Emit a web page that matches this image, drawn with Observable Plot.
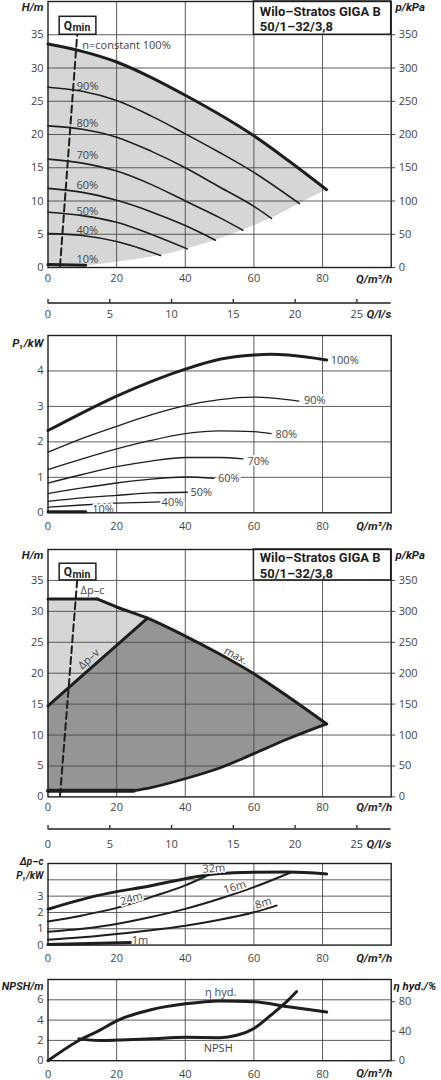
<!DOCTYPE html>
<html><head><meta charset="utf-8">
<script src="https://cdn.jsdelivr.net/npm/d3@7"></script>
<script src="https://cdn.jsdelivr.net/npm/@observablehq/plot@0.6"></script>
<style>
html,body{margin:0;padding:0;background:#fff;}
#c{position:relative;width:441px;height:1080px;overflow:hidden;background:#fff;}
#c svg{position:absolute;left:0;overflow:visible;}
</style></head><body><div id="c"></div>
<script>
// ---------------- shared axes ----------------
const Q_DOMAIN = [0, 100];
const Q_LS_DOMAIN = [0, 100 / 3.6];
const qTicks = [0, 20, 40, 60, 80];
const qGridLines = [20, 40, 60, 80];
const lsTicks = [0, 5, 10, 15, 20, 25];

// ---------------- panel 1 : H(Q), n = const ----------------
const H_DOMAIN = [0, 40];
const KPA_DOMAIN = [0, 400];
const hTicks = [0, 5, 10, 15, 20, 25, 30, 35];
const hGridLines = [5, 10, 15, 20, 25, 30, 35];
const kpaTicks = [0, 50, 100, 150, 200, 250, 300, 350];
const h100 = [[0,33.6],[10,32.5],[20,30.9],[30,28.6],[40,25.9],[50,23.0],[60,19.8],[70,16.1],[81.2,11.7]];
const h90  = [[0,27.1],[10,26.5],[20,25.1],[30,22.8],[40,20.1],[50,17.3],[60,14.3],[73.3,9.6]];
const h80  = [[0,21.3],[10,20.8],[20,19.6],[30,17.5],[40,15.0],[50,12.1],[60,9.2],[65.1,7.4]];
const h70  = [[0,16.3],[10,15.7],[20,14.5],[30,12.5],[40,10.0],[50,7.5],[56.8,5.6]];
const h60  = [[0,11.9],[10,11.3],[20,10.1],[30,8.4],[40,6.3],[48.8,4.1]];
const h50  = [[0,8.3],[10,7.8],[20,6.8],[30,5.0],[40.6,2.8]];
const h40  = [[0,5.1],[10,4.8],[20,3.9],[32.8,1.8]];
const h10  = [[0,0.45],[11,0.35]];
const hLowerLimit = [[0,0],[10,0.2],[20,0.8],[32.8,1.8],[40.6,2.8],[48.8,4.1],[56.8,5.6],[65.1,7.4],[73.3,9.6],[81.2,11.7]];
const qminLine = [[3.5,0.2],[8.5,35]];
const qminBox = {q1: 3.4, q2: 14.1, h1: 35, h2: 37.7};
const qminLabel = {q: 7.0, h: 36.3};
const titleBox = {q1: 60, q2: 100, h1: 35, h2: 40};
const titleText = {q: 61.7, h: 37.45, t: "Wilo–Stratos GIGA B\n50/1–32/3,8"};
const speedLabels = [
  {q: 10.0, v: 33.45, t: "n=constant 100%"},
  {q: 8.4, v: 27.2, t: "90%"}, {q: 8.3, v: 21.7, t: "80%"}, {q: 8.3, v: 16.8, t: "70%"},
  {q: 8.3, v: 12.3, t: "60%"}, {q: 8.3, v: 8.5, t: "50%"}, {q: 8.3, v: 5.5, t: "40%"},
  {q: 8.3, v: 1.26, t: "10%"}
];

// ---------------- panel 2 : P1(Q), n = const ----------------
const P1_DOMAIN = [0, 5];
const p1Ticks = [0, 1, 2, 3, 4];
const p1GridLines = [1, 2, 3, 4];
const p100 = [[0,2.32],[10,2.82],[20,3.29],[30,3.70],[40,4.05],[50,4.33],[60,4.45],[65,4.47],[70,4.45],[81.2,4.31]];
const p90  = [[0,1.71],[10,2.10],[20,2.44],[30,2.76],[40,3.02],[50,3.19],[60,3.26],[73.1,3.15]];
const p80  = [[0,1.22],[10,1.52],[20,1.80],[30,2.04],[40,2.23],[50,2.31],[60,2.29],[65,2.23]];
const p70  = [[0,0.84],[10,1.08],[20,1.30],[30,1.46],[40,1.56],[50,1.56],[56.8,1.52]];
const p60  = [[0,0.54],[10,0.70],[20,0.84],[30,0.95],[40,1.01],[48.3,0.97]];
const p50  = [[0,0.32],[10,0.42],[20,0.49],[30,0.56],[40.6,0.58]];
const p40  = [[0,0.16],[10,0.22],[20,0.27],[32.8,0.31]];
const p10  = [[0,0.03],[11,0.03]];
const p1Labels = [
  {q: 82.4, v: 4.30, t: "100%"}, {q: 74.6, v: 3.17, t: "90%"}, {q: 66.3, v: 2.22, t: "80%"},
  {q: 58.1, v: 1.46, t: "70%"}, {q: 49.5, v: 0.97, t: "60%"}, {q: 41.5, v: 0.57, t: "50%"},
  {q: 33.1, v: 0.30, t: "40%"}, {q: 12.9, v: 0.09, t: "10%"}
];

// ---------------- panel 3 : control modes ----------------
const dpcTop   = [[0,32],[14.3,32]];
const maxCurve = [[14.3,32],[20,30.7],[29,28.9],[40,26.0],[50,23.1],[60,19.9],[70,16.2],[81.2,11.8]];
const dpvLine  = [[0,14.7],[29,28.9]];
const minCurve = [[0,1],[25,1],[30,1.5],[40,2.95],[50,4.67],[60,7.0],[70,9.4],[81.2,11.8]];
const dpcLabel = {q: 9.5, v: 33.3, t: "Δp–c"};
const slopedLabels = [
  {q: 11.9, v: 22.3, t: "Δp–v", r: -42},
  {q: 54.7, v: 22.8, t: "max.", r: 29}
];

// ---------------- panel 4 : P1 at Δp-c ----------------
const dpcP1Ticks = [0, 1, 2, 3];
const dpcMaxP1 = [[0,2.2],[14.3,3.03],[30,3.64],[45.5,4.27],[50,4.38],[60,4.46],[70,4.48],[81.2,4.36]];
const dpc24 = [[0,1.44],[10,1.82],[20,2.28],[30,2.94],[40,3.66],[46,4.22]];
const dpc16 = [[0,0.82],[10,1.0],[20,1.29],[30,1.72],[40,2.22],[50,2.84],[60,3.55],[70.7,4.45]];
const dpc8  = [[0,0.33],[10,0.48],[20,0.68],[30,0.91],[40,1.19],[50,1.55],[60,2.01],[66.6,2.42]];
const dpc1  = [[0,0.03],[24,0.16]];
const dpcLabels = [
  {q: 48.3, v: 4.69, t: "32m", r: -4}, {q: 24.3, v: 2.84, t: "24m", r: -17},
  {q: 54.4, v: 3.55, t: "16m", r: -17}, {q: 62.7, v: 2.57, t: "8m", r: -18},
  {q: 26.8, v: 0.31, t: "1m", r: 0}
];

// ---------------- panel 5 : NPSH and efficiency ----------------
const NPSH_DOMAIN = [0, 8];
const ETA_DOMAIN = [0, 110];
const npshTicks = [0, 2, 4, 6];
const npshGridLines = [2, 4, 6];
const etaTicks = [0, 40, 80];
const npsh = [[9,2.15],[15,2.0],[20,2.03],[30,2.16],[40,2.3],[50,2.27],[55,2.5],[60,3.18],[65,4.5],[70,5.97],[72.4,6.8]];
const etaHyd = [[0,0],[10,30],[15,41],[20,54],[30,69],[40,77],[50,81],[60,80],[70,73],[81.2,66]];
const npshLabels = [{q: 50.3, v: 6.7, t: "η hyd."}, {q: 49.6, v: 1.2, t: "NPSH"}];

// ======================================================
const FONT = "'Open Sans','Noto Sans',sans-serif";
const TFONT = "Roboto,'Open Sans',sans-serif";
const INK = "#1e1e1e", GRID = "#4a4a4a", TXT = "#444", LIGHT = "#d6d6d6", DARK = "#959595";
const W = 441, ML = 47.5, MR = 50.3;
const root = document.getElementById("c");
const XY = {x: d => d[0], y: d => d[1]};
const CURVE = "monotone-x";
const INT = d3.format("d");

function mount(svg, top) { svg.style.top = top + "px"; root.appendChild(svg); return svg; }
const STYLE = {fontFamily: FONT, fontSize: "11px", color: TXT, background: "transparent", overflow: "visible"};

function panel(frameTop, frameBottom, yDomain, marks) {
  const mt = 20, mb = 24;
  return mount(Plot.plot({
    width: W, height: frameBottom - frameTop + mt + mb,
    marginLeft: ML, marginRight: MR, marginTop: mt, marginBottom: mb,
    x: {domain: Q_DOMAIN}, y: {domain: yDomain},
    style: STYLE, marks
  }), frameTop - mt);
}

const gridX = () => Plot.ruleX(qGridLines, {stroke: GRID, strokeWidth: 0.9});
const gridY = (lines) => Plot.ruleY(lines, {stroke: GRID, strokeWidth: 0.9});
const frame = () => Plot.frame({stroke: INK, strokeWidth: 1.4});
const leftAxis = (ticks) => Plot.axisY({ticks, tickFormat: INT, tickSize: 0, tickPadding: 4.5, label: null, fontSize: 11});
const bottomAxis = (pad) => Plot.axisX({ticks: qTicks, tickFormat: INT, tickSize: 0, tickPadding: pad, label: null, fontSize: 11});
const title = (t, anchor, dx, dy, align, size = 11.5) => Plot.text([t], {frameAnchor: anchor, lineAnchor: "middle", dx, dy, textAnchor: align, fontFamily: TFONT, fontWeight: "bold", fontStyle: "italic", fill: INK, fontSize: size});
const qLabel = (dy) => title("Q/m³/h", "bottom-right", 1, dy, "end");
const thin = (data, w = 1.6) => Plot.line(data, {...XY, stroke: INK, strokeWidth: w, curve: CURVE});

function headerMarks() {
  return [
    Plot.line(qminLine, {...XY, stroke: INK, strokeWidth: 2, strokeDasharray: "7,4"}),
    Plot.rect([titleBox], {x1: "q1", x2: "q2", y1: "h1", y2: "h2", fill: "white", stroke: INK, strokeWidth: 1.5}),
    Plot.text([titleText], {x: "q", y: "h", text: "t", textAnchor: "start", lineAnchor: "middle", lineHeight: 1.22, fontFamily: TFONT, fontWeight: "bold", fontSize: 13, fill: INK}),
    Plot.rect([qminBox], {x1: "q1", x2: "q2", y1: "h1", y2: "h2", fill: "white", stroke: INK, strokeWidth: 1.5}),
    Plot.text([qminLabel], {x: "q", y: "h", text: () => "Q", textAnchor: "end", fontFamily: TFONT, fontWeight: "bold", fontSize: 12, fill: INK}),
    Plot.text([qminLabel], {x: "q", y: "h", text: () => "min", textAnchor: "start", dx: 0.5, dy: 2, fontFamily: TFONT, fontWeight: "bold", fontSize: 10.5, fill: INK})
  ];
}

function rightAxis(frameTop, frameBottom, domain, ticks, label, dx, dy, extra = []) {
  const mt = 20, mb = 24;
  return mount(Plot.plot({
    width: W, height: frameBottom - frameTop + mt + mb,
    marginLeft: ML, marginRight: MR, marginTop: mt, marginBottom: mb,
    x: {domain: Q_DOMAIN, axis: null}, y: {domain},
    style: STYLE,
    marks: [
      ...extra,
      Plot.axisY({ticks, tickFormat: INT, anchor: "right", tickSize: 3.5, tickPadding: 4, label: null, fontSize: 11}),
      title(label, "top-right", dx, dy, "start")
    ]
  }), frameTop - mt);
}

function lsAxis(lineY, pad) {
  const mb = 26, ih = 3.5;
  return mount(Plot.plot({
    width: W, height: ih + mb, marginLeft: ML, marginRight: MR, marginTop: 0, marginBottom: mb,
    x: {domain: Q_LS_DOMAIN}, y: {domain: [0, 1], axis: null},
    style: STYLE,
    marks: [
      Plot.ruleX(lsTicks, {stroke: INK, strokeWidth: 1.3}),
      Plot.ruleY([0], {stroke: INK, strokeWidth: 1.4}),
      Plot.axisX({ticks: lsTicks, tickFormat: INT, tickSize: 0, tickPadding: pad, label: null, fontSize: 11}),
      title("Q/l/s", "bottom-right", 0, pad + 4, "end")
    ]
  }), lineY - ih);
}

// ---------- panel 1 ----------
const F1 = [0.7, 266.7];
panel(F1[0], F1[1], H_DOMAIN, [
  Plot.areaY(h100, {...XY, fill: LIGHT, curve: CURVE}),
  Plot.areaY(hLowerLimit, {...XY, fill: "white", curve: CURVE}),
  gridX(), gridY(hGridLines),
  thin(h90), thin(h80), thin(h70), thin(h60), thin(h50), thin(h40),
  Plot.line(h100, {...XY, stroke: INK, strokeWidth: 3, curve: CURVE}),
  Plot.line(h10, {...XY, stroke: INK, strokeWidth: 3}),
  ...headerMarks(),
  Plot.text(speedLabels, {x: "q", y: "v", text: "t", textAnchor: "start", fill: TXT, fontSize: 11}),
  frame(), leftAxis(hTicks), bottomAxis(7),
  title("H/m", "top-left", -4.5, 6, "end"), qLabel(12)
]);
rightAxis(F1[0], F1[1], KPA_DOMAIN, kpaTicks, "p/kPa", 4.3, 6);
lsAxis(302.7, 7);

// ---------- panel 2 ----------
const F2 = [335, 512.3];
panel(F2[0], F2[1], P1_DOMAIN, [
  gridX(), gridY(p1GridLines),
  thin(p90, 1.3), thin(p80, 1.3), thin(p70, 1.3), thin(p60, 1.3), thin(p50, 1.3), thin(p40, 1.3),
  Plot.line(p100, {...XY, stroke: INK, strokeWidth: 3, curve: CURVE}),
  Plot.line(p10, {...XY, stroke: INK, strokeWidth: 3}),
  Plot.text(p1Labels, {x: "q", y: "v", text: "t", textAnchor: "start", fill: TXT, fontSize: 11, stroke: "white", strokeWidth: 4, paintOrder: "stroke"}),
  frame(), leftAxis(p1Ticks), bottomAxis(9),
  title("P₁/kW", "top-left", -4.5, 8.3, "end"), qLabel(13.5)
]);

// ---------- panel 3 ----------
const F3 = [549.3, 796.7];
panel(F3[0], F3[1], H_DOMAIN, [
  Plot.areaY([...dpcTop, ...maxCurve.slice(1)], {...XY, fill: DARK, curve: CURVE}),
  Plot.line([[0, 14.7], ...dpcTop, ...maxCurve.slice(1, 3)], {...XY, fill: LIGHT, stroke: "none"}),
  Plot.areaY(minCurve, {...XY, fill: "white", curve: CURVE}),
  gridX(), gridY(hGridLines),
  Plot.line(dpcTop, {...XY, stroke: INK, strokeWidth: 3}),
  Plot.line(maxCurve, {...XY, stroke: INK, strokeWidth: 3, curve: CURVE}),
  Plot.line(dpvLine, {...XY, stroke: INK, strokeWidth: 3}),
  Plot.line(minCurve.slice(0, 2), {...XY, stroke: INK, strokeWidth: 4}),
  Plot.line(minCurve.slice(1), {...XY, stroke: INK, strokeWidth: 2.8, curve: CURVE}),
  ...headerMarks(),
  Plot.text([dpcLabel], {x: "q", y: "v", text: "t", textAnchor: "start", fill: TXT, fontSize: 11}),
  Plot.text(slopedLabels, {x: "q", y: "v", text: "t", rotate: "r", fill: TXT, fontSize: 11}),
  frame(), leftAxis(hTicks), bottomAxis(6),
  title("H/m", "top-left", -4.5, 6, "end"), qLabel(10.5)
]);
rightAxis(F3[0], F3[1], KPA_DOMAIN, kpaTicks, "p/kPa", 4.3, 6);
lsAxis(828.5, 11);

// ---------- panel 4 ----------
const F4 = [862.7, 944.3];
panel(F4[0], F4[1], P1_DOMAIN, [
  gridX(), gridY(p1GridLines),
  thin(dpc24, 2), thin(dpc16, 2), thin(dpc8, 2),
  Plot.line(dpcMaxP1, {...XY, stroke: INK, strokeWidth: 3, curve: CURVE}),
  Plot.line(dpc1, {...XY, stroke: INK, strokeWidth: 3}),
  Plot.text(dpcLabels, {x: "q", y: "v", text: "t", rotate: "r", fill: TXT, fontSize: 11, stroke: "white", strokeWidth: 3, paintOrder: "stroke"}),
  frame(), leftAxis(dpcP1Ticks), bottomAxis(9),
  title("Δp–c", "top-left", -4.5, -2, "end", 10),
  title("P₁/kW", "top-left", -4.5, 12, "end", 10), qLabel(13)
]);

// ---------- panel 5 ----------
const F5 = [979.3, 1060.5];
panel(F5[0], F5[1], NPSH_DOMAIN, [
  gridX(), gridY(npshGridLines),
  Plot.line(npsh, {...XY, stroke: INK, strokeWidth: 3, curve: CURVE}),
  Plot.text(npshLabels, {x: "q", y: "v", text: "t", fill: TXT, fontSize: 11}),
  frame(), leftAxis(npshTicks), bottomAxis(9),
  title("NPSH/m", "top-left", -4.5, 7, "end", 11), qLabel(13)
]);
rightAxis(F5[0], F5[1], ETA_DOMAIN, etaTicks, "η hyd./%", 2.3, 7,
  [Plot.line(etaHyd, {...XY, stroke: INK, strokeWidth: 3, curve: CURVE})]);
</script></body></html>
